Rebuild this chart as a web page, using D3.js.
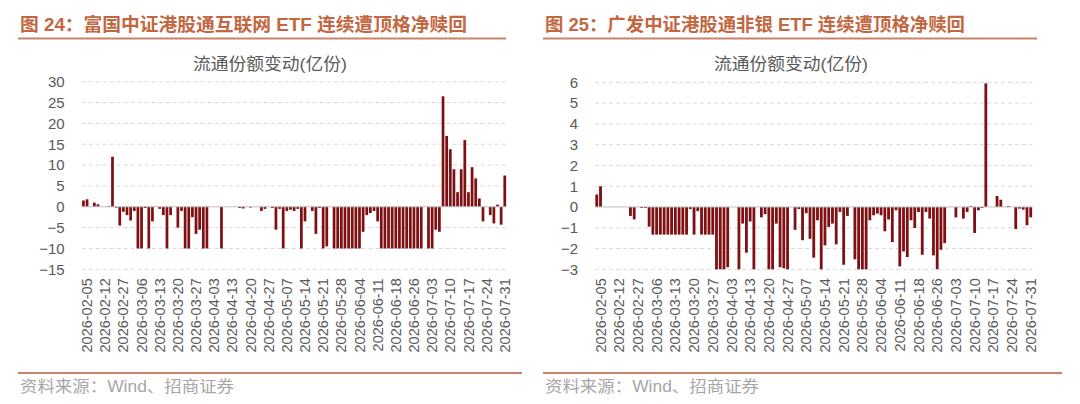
<!DOCTYPE html>
<html>
<head>
<meta charset="utf-8">
<script src="https://cdn.jsdelivr.net/npm/d3@7"></script>
<style>
  body { margin: 0; background: #fff; }
  svg text { font-family: "Liberation Sans", Arial, "Noto Sans CJK SC", sans-serif; }
</style>
</head>
<body>
<svg id="chart" width="1080" height="404"></svg>
<script>
// trading days: weekdays from 2026-02-04 to 2026-07-31 minus these holidays
const holidays = ["2026-02-16", "2026-02-17", "2026-02-18", "2026-02-19", "2026-02-20", "2026-02-23",
    "2026-04-06", "2026-05-01", "2026-05-04", "2026-05-05", "2026-06-19"];

const tickLabels = ["2026-02-05", "2026-02-12", "2026-02-27", "2026-03-06", "2026-03-13", "2026-03-20",
    "2026-03-27", "2026-04-03", "2026-04-13", "2026-04-20", "2026-04-27", "2026-05-07", "2026-05-14",
    "2026-05-21", "2026-05-28", "2026-06-04", "2026-06-11", "2026-06-18", "2026-06-26", "2026-07-03",
    "2026-07-10", "2026-07-17", "2026-07-24", "2026-07-31"];

// 富国中证港股通互联网ETF 流通份额变动(亿份)
const internetFlow = [
    1.5, 1.8, 0, 1.0, 0.6, 0, 0, 0.2, 12, -0.2,
    -4.5, -1.2, -2, -3.3, -1, -10, -10, -0.3, -10, -3.5,
    0, -0.5, -2, -10, -2, 0, -5, -1, -10, -10,
    -2.5, -6.5, -5.5, -10, -10, 0, 0, 0, -10, 0,
    0, 0, 0, -0.3, -0.4, 0, -0.2, 0, 0, -1,
    -0.5, 0, -0.3, -5.5, -0.5, -10, -1, -0.7, -1, -0.5,
    -10, -3.5, 0, -1, -6.5, -0.3, -10, -9.5, 0, -10,
    -10, -10, -10, -10, -10, -10, -10, -6, -2, -1.5,
    -1, -3.5, -10, -10, -10, -10, -10, -10, -10, -10,
    -10, -10, -10, -10, 0, -10, -10, -5.5, -6, 26.5,
    17, 13.8, 9, 3.5, 9, 16, 3.5, 9.5, 6.8, 2,
    -3.5, 0, -2, -4, 0.5, -4.3, 7.5
];

// 广发中证港股通非银ETF 流通份额变动(亿份)
const nonBankFlow = [
    0.6, 1.0, 0, 0, 0, 0, 0, 0, 0, -0.43,
    -0.6, 0, -0.05, -0.05, -0.95, -1.33, -1.33, -1.33, -1.33, -1.33,
    -1.33, -1.33, -1.33, -1.33, -1.33, -0.1, -1.33, -0.2, -1.33, -1.33,
    -1.33, -1.33, -3, -3, -3, -2.9, 0, 0, -3, -0.8,
    -2.2, -0.7, -3, 0, -0.5, -0.35, -3, -3, -0.8, -2.9,
    -2.95, -3, 0, -1.1, -0.1, -1.6, -0.3, -1.53, -2.44, -0.64,
    -3, -1.85, -0.96, -0.8, -1.8, -0.24, -2.78, -0.43, 0, -2.52,
    -3, -3, -3, -0.64, -0.4, -0.32, -0.4, -1.17, -0.6, -1.69,
    -0.16, -2.86, -2.14, -2.41, -0.64, -1.01, -0.24, -2.3, -0.24, -0.56,
    -2.33, -3, -2.06, -1.74, 0, 0, -0.5, 0, -0.56, -0.24,
    0.05, -1.25, -0.16, -0.05, 5.95, 0, 0, 0.53, 0.35, 0,
    0.05, 0, -1.06, -0.08, -0.13, -0.88, -0.5
];

const internetTicks = [30, 25, 20, 15, 10, 5, 0, -5, -10, -15];
const nonBankTicks = [6, 5, 4, 3, 2, 1, 0, -1, -2, -3];

const fmt = d3.utcFormat("%Y-%m-%d");
const dates = d3.utcDay.range(new Date(Date.UTC(2026, 1, 4)), new Date(Date.UTC(2026, 7, 1)))
    .filter(d => d.getUTCDay() !== 0 && d.getUTCDay() !== 6)
    .map(fmt)
    .filter(d => !holidays.includes(d));

const svg = d3.select("#chart");
const titleColor = "#C2673F";
const lineColor = "#C8836A";
const barColor = "#7E0F12";

function drawPanel(p) {
    const g = svg.append("g");

    // title + underline
    g.append("text")
        .attr("x", p.left)
        .attr("y", 31)
        .attr("fill", titleColor)
        .attr("font-size", 18.5)
        .attr("font-weight", "bold")
        .attr("textLength", p.titleWidth)
        .attr("lengthAdjust", "spacingAndGlyphs")
        .text(p.title);
    g.append("line")
        .attr("x1", p.left - 2).attr("x2", p.titleLineEnd)
        .attr("y1", 38.5).attr("y2", 38.5)
        .attr("stroke", lineColor).attr("stroke-width", 2);

    // chart subtitle
    g.append("text")
        .attr("x", p.subX)
        .attr("y", 70)
        .attr("text-anchor", "middle")
        .attr("fill", "#595959")
        .attr("font-size", 16.5)
        .attr("textLength", 154)
        .attr("lengthAdjust", "spacingAndGlyphs")
        .text("流通份额变动(亿份)");

    const x = d3.scaleBand()
        .domain(dates)
        .range([p.plotLeft, p.plotRight])
        .paddingInner(0.25)
        .paddingOuter(0.1);

    const y = d3.scaleLinear()
        .domain([d3.min(p.ticks), d3.max(p.ticks)])
        .range([p.plotBottom, p.plotTop]);

    // dashed grid
    g.selectAll(".grid")
        .data(p.ticks.filter(t => t !== 0))
        .enter().append("line")
        .attr("x1", p.plotLeft).attr("x2", p.plotRight)
        .attr("y1", d => y(d)).attr("y2", d => y(d))
        .attr("stroke", "#D9D9D9")
        .attr("stroke-dasharray", "4,3");

    // y axis labels
    const yAxis = g.append("g")
        .attr("transform", `translate(${p.plotLeft - 8},0)`)
        .call(d3.axisLeft(y).tickValues(p.ticks).tickSize(0).tickPadding(9));
    yAxis.select(".domain").remove();
    yAxis.selectAll("text")
        .attr("fill", "#595959")
        .attr("font-size", 15)
        .style("font-family", "'Liberation Sans', Arial, sans-serif");

    // bars
    g.selectAll(".bar")
        .data(p.values.map((v, i) => ({ date: dates[i], v: v })))
        .enter().append("rect")
        .attr("x", d => x(d.date))
        .attr("width", x.bandwidth())
        .attr("y", d => y(Math.max(0, d.v)))
        .attr("height", d => Math.abs(y(d.v) - y(0)))
        .attr("fill", barColor);

    // zero line
    g.append("line")
        .attr("x1", p.plotLeft).attr("x2", p.plotRight)
        .attr("y1", y(0)).attr("y2", y(0))
        .attr("stroke", "#BFBFBF");

    // rotated date labels
    const xAxis = g.append("g")
        .attr("transform", `translate(0,${p.plotBottom + 6})`)
        .call(d3.axisBottom(x).tickValues(tickLabels).tickSize(0).tickPadding(0));
    xAxis.select(".domain").remove();
    xAxis.selectAll("text")
        .attr("transform", "rotate(-90)")
        .attr("text-anchor", "end")
        .attr("x", -3)
        .attr("y", 0)
        .attr("dy", "0.35em")
        .attr("fill", "#595959")
        .attr("font-size", 14.5)
        .style("font-family", "'Liberation Sans', Arial, sans-serif");

    // bottom rule and source
    g.append("line")
        .attr("x1", p.left - 2).attr("x2", p.bottomLineEnd)
        .attr("y1", 373).attr("y2", 373)
        .attr("stroke", lineColor).attr("stroke-width", 2);
    g.append("text")
        .attr("x", p.left)
        .attr("y", 392)
        .attr("fill", "#A6A6A6")
        .attr("font-size", 16)
        .attr("textLength", 214)
        .attr("lengthAdjust", "spacingAndGlyphs")
        .text("资料来源：Wind、招商证券");
}

drawPanel({
    title: "图 24：富国中证港股通互联网 ETF 连续遭顶格净赎回",
    titleWidth: 447,
    left: 20, titleLineEnd: 506, bottomLineEnd: 522, subX: 270,
    plotLeft: 81.7, plotRight: 506.5, plotTop: 81.7, plotBottom: 269.3,
    ticks: internetTicks, values: internetFlow
});

drawPanel({
    title: "图 25：广发中证港股通非银 ETF 连续遭顶格净赎回",
    titleWidth: 420,
    left: 545, titleLineEnd: 1037, bottomLineEnd: 1062, subX: 791,
    plotLeft: 595, plotRight: 1032.5, plotTop: 82.3, plotBottom: 269.3,
    ticks: nonBankTicks, values: nonBankFlow
});
</script>
</body>
</html>
